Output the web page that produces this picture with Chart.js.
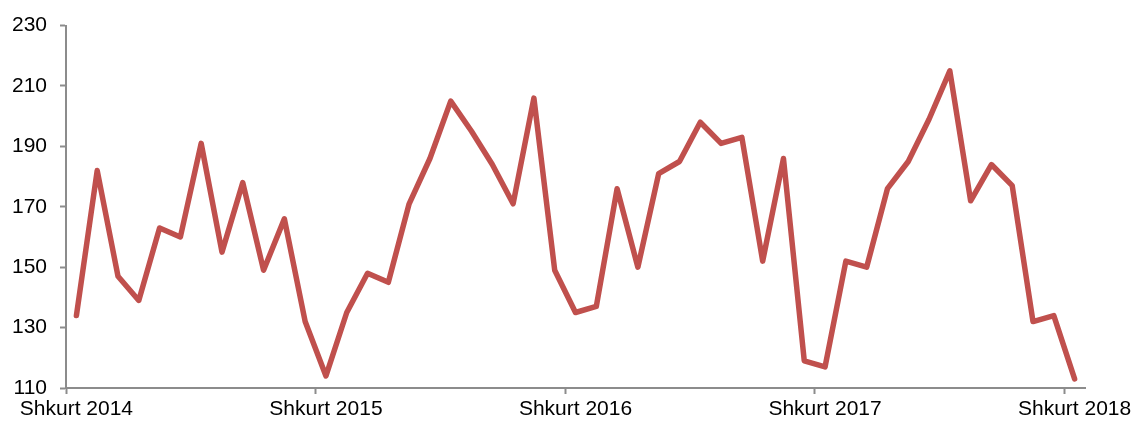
<!DOCTYPE html>
<html lang="sq">
<head>
  <meta charset="UTF-8" />
  <title>Shkurt 2014 - Shkurt 2018</title>
  <script src="https://cdn.jsdelivr.net/npm/chart.js"></script>
  <style>
    html, body { margin:0; padding:0; background:#fff; }
    #wrap { position:relative; width:1135px; height:423px; }
  </style>
</head>
<body>
<div id="wrap"><canvas id="chart"></canvas></div>

<script>
  // ---- data ----
  const months = ['Janar','Shkurt','Mars','Prill','Maj','Qershor','Korrik','Gusht','Shtator','Tetor','Nëntor','Dhjetor'];
  const startYear = 2014, startMonth = 1, count = 49; // Shkurt 2014 .. Shkurt 2018

  const values = [
    134, 182, 147, 139, 163, 160, 191, 155, 178, 149, 166, 132,
    114, 135, 148, 145, 171, 186, 205, 195, 184, 171, 206, 149,
    135, 137, 176, 150, 181, 185, 198, 191, 193, 152, 186, 119,
    117, 152, 150, 176, 185, 199, 215, 172, 184, 177, 132, 134,
    113
  ];

  const yTicks = [110, 130, 150, 170, 190, 210, 230];

  const categories = [];
  for (let i = 0; i < count; i++) {
    const m = (startMonth + i) % 12;
    const y = startYear + Math.floor((startMonth + i) / 12);
    categories.push(months[m] + ' ' + y);
  }

  const axisGrey = '#8c8c8c';
  const font = { family: 'Liberation Sans, Arial, sans-serif', size: 21 };

  new Chart(document.getElementById('chart'), {
    type: 'line',
    data: {
      labels: categories,
      datasets: [{
        data: values,
        borderColor: '#c0504d',
        borderWidth: 5.5,
        borderJoinStyle: 'round',
        borderCapStyle: 'round',
        pointRadius: 0,
        tension: 0,
        fill: false
      }]
    },
    options: {
      responsive: true,
      maintainAspectRatio: false,
      animation: false,
      layout: { padding: { top: 22, right: 50, bottom: 0, left: 0 } },
      plugins: { legend: { display: false }, tooltip: { enabled: false } },
      scales: {
        x: {
          type: 'category',
          offset: true,
          grid: {
            display: true,
            offset: true,
            drawOnChartArea: false,
            tickLength: 6,
            tickWidth: 2,
            tickColor: ctx => (ctx.index % 12 === 0 ? axisGrey : 'transparent')
          },
          border: { display: true, color: axisGrey, width: 2 },
          ticks: {
            autoSkip: false,
            maxRotation: 0,
            minRotation: 0,
            padding: 3,
            color: '#000',
            font: font,
            callback: (v, i) => (i % 12 === 0 ? categories[i] : '')
          },
          afterFit: s => { s.height = 35; }
        },
        y: {
          min: yTicks[0],
          max: yTicks[yTicks.length - 1],
          afterBuildTicks: s => { s.ticks = yTicks.map(v => ({ value: v })); },
          grid: {
            display: true,
            drawOnChartArea: false,
            tickLength: 6,
            tickWidth: 2,
            tickColor: axisGrey
          },
          border: { display: true, color: axisGrey, width: 2 },
          ticks: { padding: 13, color: '#000', font: font },
          afterFit: s => { s.width = 66; }
        }
      }
    }
  });
</script>
</body>
</html>
